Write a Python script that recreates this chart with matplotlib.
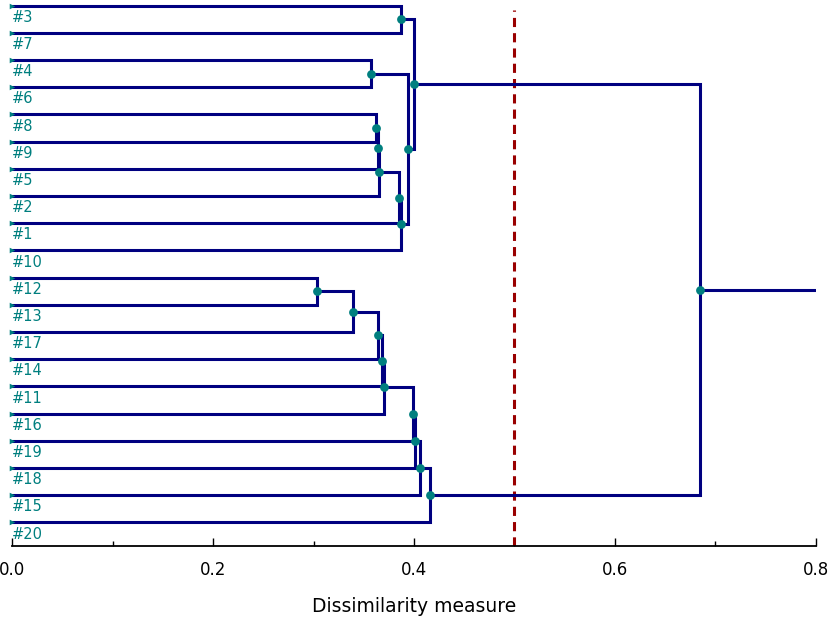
import numpy as np
import matplotlib
matplotlib.use("Agg")
import matplotlib.pyplot as plt
from matplotlib.ticker import MultipleLocator

# leaves, top to bottom
leaf_labels = ["#3", "#7", "#4", "#6", "#8", "#9", "#5", "#2", "#1", "#10",
               "#12", "#13", "#17", "#14", "#11", "#16", "#19", "#18", "#15", "#20"]

# merges (scipy-like ids: leaves 0..19, new clusters from 20 upward)
merge_left = [0, 2, 4, 22, 23, 24, 25, 21, 20,
              10, 29, 30, 31, 32, 33, 34, 35, 36, 28]
merge_right = [1, 3, 5, 6, 7, 8, 9, 26, 27,
               11, 12, 13, 14, 15, 16, 17, 18, 19, 37]
merge_height = [0.387, 0.357, 0.362, 0.364, 0.365, 0.385, 0.387, 0.394, 0.400,
                0.303, 0.339, 0.364, 0.368, 0.370, 0.399, 0.401, 0.406, 0.416, 0.685]

cutoff = 0.5
x_max = 0.8

NAVY, TEAL, RED = "#000080", "#007f7f", "#990000"

n = len(leaf_labels)
ypos = {i: float(i) for i in range(n)}
xpos = {i: 0.0 for i in range(n)}

plt.rcParams["font.family"] = "DejaVu Sans"
fig = plt.figure(figsize=(8.35, 6.22), dpi=100)
ax = fig.add_axes([0.0144, 0.122, 0.9628, 0.878])

for k, (a, b, h) in enumerate(zip(merge_left, merge_right, merge_height)):
    node = n + k
    ya, yb = ypos[a], ypos[b]
    ax.plot([xpos[a], h, h, xpos[b]], [ya, ya, yb, yb], color=NAVY, lw=2.2,
            solid_joinstyle="miter", zorder=3)
    ypos[node] = (ya + yb) / 2
    xpos[node] = h

root = n + len(merge_height) - 1
ax.plot([xpos[root], x_max], [ypos[root], ypos[root]], color=NAVY, lw=2.2, zorder=3)

node_ids = list(range(n, root + 1))
ax.scatter([xpos[i] for i in node_ids], [ypos[i] for i in node_ids],
           s=40, color=TEAL, zorder=4, linewidths=0)
ax.scatter([0.0] * n, list(range(n)), s=16, color=TEAL, marker=">", zorder=4,
           linewidths=0, clip_on=False)

for i, lab in enumerate(leaf_labels):
    ax.annotate(lab, (0.0, i), textcoords="offset points", xytext=(0, -8.4),
                ha="left", va="center", fontsize=10.5, color=TEAL)

ax.axvline(cutoff, ymin=0, ymax=0.982, color=RED, lw=2.2, ls=(0, (3, 2)), zorder=2)

ax.set_xlim(0, x_max)
ax.set_ylim(19.87, -0.21)
ax.set_yticks([])
for sp in ("top", "right", "left"):
    ax.spines[sp].set_visible(False)
ax.spines["bottom"].set_linewidth(1.3)
ax.xaxis.set_major_locator(MultipleLocator(0.2))
ax.xaxis.set_minor_locator(MultipleLocator(0.1))
ax.xaxis.set_major_formatter(plt.FuncFormatter(lambda v, _: f"{v:.1f}"))
ax.tick_params(axis="x", which="major", direction="in", length=6, width=1,
               labelsize=12, pad=11)
ax.tick_params(axis="x", which="minor", direction="in", length=3.5, width=1)
ax.set_xlabel("Dissimilarity measure", fontsize=13.5, labelpad=13)

fig.savefig("out.png", dpi=100)
